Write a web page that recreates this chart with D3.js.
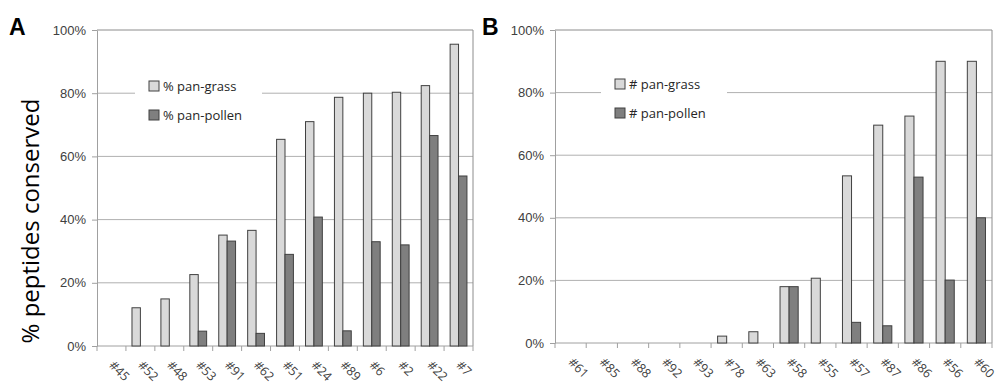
<!DOCTYPE html>
<html>
<head>
<meta charset="utf-8">
<script src="https://cdn.jsdelivr.net/npm/d3@7/dist/d3.min.js"></script>
<style>
  body { margin: 0; background: #fff; }
  svg { display: block; font-family: "Open Sans", "Liberation Sans", sans-serif; }
</style>
</head>
<body>
<div id="chart"></div>
<script>
// Panel A data
const catsA = ["#45", "#52", "#48", "#53", "#91", "#62", "#51", "#24", "#89", "#6", "#2", "#22", "#7"];
const grassA = [0, 0.121, 0.149, 0.226, 0.351, 0.366, 0.654, 0.710, 0.787, 0.800, 0.803, 0.824, 0.955];
const pollenA = [0, 0, 0, 0.047, 0.332, 0.040, 0.290, 0.408, 0.048, 0.330, 0.320, 0.666, 0.538];
const legendA = ["% pan-grass", "% pan-pollen"];

// Panel B data
const catsB = ["#61", "#85", "#88", "#92", "#93", "#78", "#63", "#58", "#55", "#57", "#87", "#86", "#56", "#60"];
const grassB = [0, 0, 0, 0, 0, 0.022, 0.036, 0.180, 0.207, 0.534, 0.696, 0.725, 0.900, 0.900];
const pollenB = [0, 0, 0, 0, 0, 0, 0, 0.180, 0, 0.066, 0.055, 0.530, 0.201, 0.400];
const legendB = ["# pan-grass", "# pan-pollen"];

const yTicks = [0, 0.2, 0.4, 0.6, 0.8, 1.0];
const fills = ["#d9d9d9", "#7f7f7f"];

const svg = d3.select("#chart").append("svg").attr("width", 998).attr("height", 385);

function panel(opt) {
    const x = d3.scaleBand().domain(opt.cats).range([opt.left, opt.right]);
    const y = d3.scaleLinear().domain([0, 1]).range([opt.bottom, opt.top]);
    const sub = d3.scaleBand().domain([0, 1]).range([0, x.bandwidth()]).paddingOuter(0.72);
    const g = svg.append("g");

    // gridlines
    g.append("g").selectAll("line").data(yTicks.slice(1)).join("line")
        .attr("x1", opt.left).attr("x2", opt.right)
        .attr("y1", d => y(d)).attr("y2", d => y(d))
        .attr("stroke", d => d === 1 ? "#8c8c8c" : "#b0b0b0").attr("stroke-width", 1);
    // right border
    g.append("line").attr("x1", opt.right).attr("x2", opt.right)
        .attr("y1", opt.top).attr("y2", opt.bottom).attr("stroke", "#8c8c8c");

    // y axis
    const ya = g.append("g").attr("transform", `translate(${opt.left},0)`)
        .call(d3.axisLeft(y).tickValues(yTicks).tickFormat(d3.format(".0%")).tickSize(5).tickSizeOuter(0).tickPadding(6));
    ya.select(".domain").attr("stroke", "#a0a0a0");
    ya.selectAll(".tick line").attr("stroke", "#a0a0a0");
    ya.selectAll("text").style("font-size", "13px").attr("fill", "#404040");

    // x axis line and boundary ticks
    g.append("line").attr("x1", opt.left).attr("x2", opt.right)
        .attr("y1", opt.bottom).attr("y2", opt.bottom).attr("stroke", "#a0a0a0");
    const bounds = opt.cats.map(c => x(c)).concat([opt.right]);
    g.append("g").selectAll("line").data(bounds).join("line")
        .attr("x1", d => d).attr("x2", d => d)
        .attr("y1", opt.bottom).attr("y2", opt.bottom + 5).attr("stroke", "#a0a0a0");

    // x labels
    g.append("g").selectAll("text").data(opt.cats).join("text")
        .attr("transform", d => `translate(${x(d) + x.bandwidth() / 2},${opt.bottom + 17}) rotate(45)`)
        .attr("dy", "0.35em")
        .style("font-size", "12.5px").attr("fill", "#404040")
        .text(d => d);

    // bars
    const series = [opt.grass, opt.pollen];
    series.forEach((vals, si) => {
        g.append("g").selectAll("rect").data(opt.cats.map((c, i) => ({ c, v: vals[i] })).filter(d => d.v > 0)).join("rect")
            .attr("x", d => x(d.c) + sub(si))
            .attr("y", d => y(d.v))
            .attr("width", sub.bandwidth())
            .attr("height", d => y(0) - y(d.v))
            .attr("fill", fills[si]).attr("stroke", "#404040").attr("stroke-width", 1);
    });

    // legend
    const lg = g.append("g");
    lg.append("rect").attr("x", opt.legX - 14).attr("y", opt.legY - 12)
        .attr("width", opt.legW).attr("height", 44).attr("fill", "#fff");
    opt.legend.forEach((t, i) => {
        lg.append("rect").attr("x", opt.legX).attr("y", opt.legY + i * 29 - 5)
            .attr("width", 10).attr("height", 10)
            .attr("fill", fills[i]).attr("stroke", "#404040");
        lg.append("text").attr("x", opt.legX + 14).attr("y", opt.legY + i * 29)
            .attr("dy", "0.35em").style("font-size", "13px").attr("fill", "#262626").text(t);
    });

    // panel letter
    svg.append("text").attr("x", opt.letterX).attr("y", 35)
        .style("font-size", "23px").style("font-weight", "bold").attr("fill", "#000")
        .style("font-family", "'Liberation Sans', Arial, sans-serif").text(opt.letter);
}

panel({ cats: catsA, grass: grassA, pollen: pollenA, legend: legendA,
        left: 97, right: 473, top: 30, bottom: 346, legX: 149, legY: 86, legW: 127, letter: "A", letterX: 9 });
panel({ cats: catsB, grass: grassB, pollen: pollenB, legend: legendB,
        left: 555, right: 992, top: 30, bottom: 343, legX: 615, legY: 84, legW: 126, letter: "B", letterX: 482 });

// y axis title
svg.append("text").attr("transform", "translate(39,221) rotate(-90)")
    .attr("text-anchor", "middle").style("font-size", "24px").attr("fill", "#000")
    .text("% peptides conserved");
</script>
</body>
</html>
